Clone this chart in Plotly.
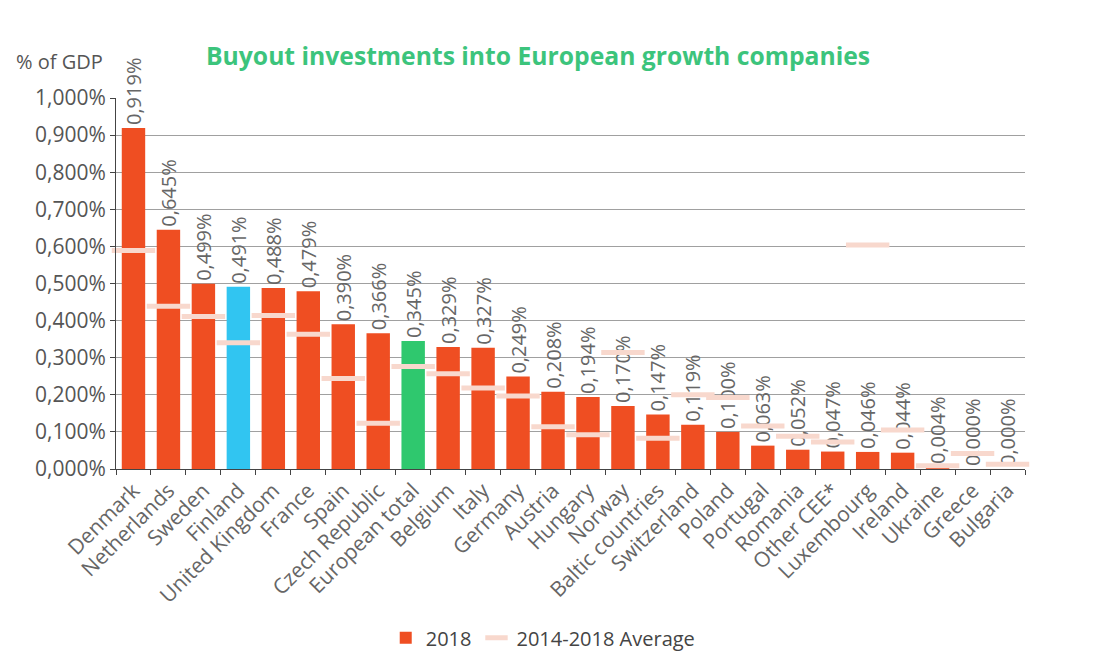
import plotly.graph_objects as go

categories = ["Denmark", "Netherlands", "Sweden", "Finland", "United Kingdom", "France", "Spain",
              "Czech Republic", "European total", "Belgium", "Italy", "Germany", "Austria", "Hungary",
              "Norway", "Baltic countries", "Switzerland", "Poland", "Portugal", "Romania", "Other CEE*",
              "Luxembourg", "Ireland", "Ukraine", "Greece", "Bulgaria"]
values_2018 = [0.919, 0.645, 0.499, 0.491, 0.488, 0.479, 0.390, 0.366, 0.345, 0.329, 0.327, 0.249,
               0.208, 0.194, 0.170, 0.147, 0.119, 0.100, 0.063, 0.052, 0.047, 0.046, 0.044, 0.004,
               0.000, 0.000]
avg_2014_2018 = [0.589, 0.439, 0.411, 0.340, 0.414, 0.363, 0.244, 0.123, 0.276, 0.257, 0.218, 0.197,
                 0.114, 0.092, 0.314, 0.083, 0.200, 0.193, 0.116, 0.088, 0.073, 0.604, 0.105, 0.009,
                 0.042, 0.013]
y_ticks = [0.0, 0.1, 0.2, 0.3, 0.4, 0.5, 0.6, 0.7, 0.8, 0.9, 1.0]
y_ticktext = [f"{v:.3f}%".replace(".", ",") for v in y_ticks]
bar_text = [f"{v:.3f}%".replace(".", ",") for v in values_2018]

ORANGE = "#EF4E22"
BLUE = "#31C5F1"
GREEN = "#2FC86E"
colors = [BLUE if c == "Finland" else GREEN if c == "European total" else ORANGE for c in categories]

font_family = "Open Sans, Noto Sans, sans-serif"

fig = go.Figure()
fig.add_trace(go.Bar(
    x=categories, y=values_2018, name="2018",
    marker=dict(color=colors, line=dict(width=0)),
    width=0.67,
    text=bar_text, textposition="outside", textangle=-90, constraintext="none",
    textfont=dict(size=20, color="#666666", family=font_family),
    cliponaxis=False,
))
fig.add_trace(go.Scatter(
    x=categories, y=avg_2014_2018, name="2014-2018 Average", mode="markers",
    marker=dict(symbol="line-ew", size=31, color="#F8D8CD", line=dict(width=5, color="#F8D8CD")),
    cliponaxis=False,
))

fig.update_layout(
    width=1111, height=661,
    paper_bgcolor="white", plot_bgcolor="white",
    margin=dict(l=108, r=94, t=90, b=193),
    font=dict(family=font_family, color="#555555"),
    showlegend=True,
    legend=dict(orientation="h", x=0.47, xanchor="center", y=-0.455, yanchor="middle",
                font=dict(size=20, color="#444444")),
    annotations=[
        dict(text="<b>Buyout investments into European growth companies</b>", xref="paper", yref="paper",
             x=0.097, y=1.114, xanchor="left", yanchor="middle", showarrow=False,
             font=dict(size=24.7, color="#3CC47C", family=font_family)),
        dict(text="% of GDP", xref="paper", yref="paper", x=-0.112, y=1.098, xanchor="left",
             yanchor="middle", showarrow=False, font=dict(size=20, color="#555555", family=font_family)),
    ],
)
fig.update_yaxes(
    range=[0, 1.0], tickvals=y_ticks, ticktext=y_ticktext, automargin=False,
    showgrid=True, gridcolor="#A0A0A0", gridwidth=1,
    showline=True, linecolor="#444444", linewidth=1,
    ticks="outside", ticklen=5, tickcolor="#444444",
    tickfont=dict(size=21, color="#555555"), zeroline=False,
)
fig.update_xaxes(
    type="category", range=[-0.5, len(categories) - 0.5], tickangle=-45, tickson="boundaries",
    automargin=False,
    showline=True, linecolor="#444444", linewidth=1,
    ticks="outside", ticklen=5, tickcolor="#444444",
    tickfont=dict(size=21, color="#666666"),
)

fig.write_html("out.html")
